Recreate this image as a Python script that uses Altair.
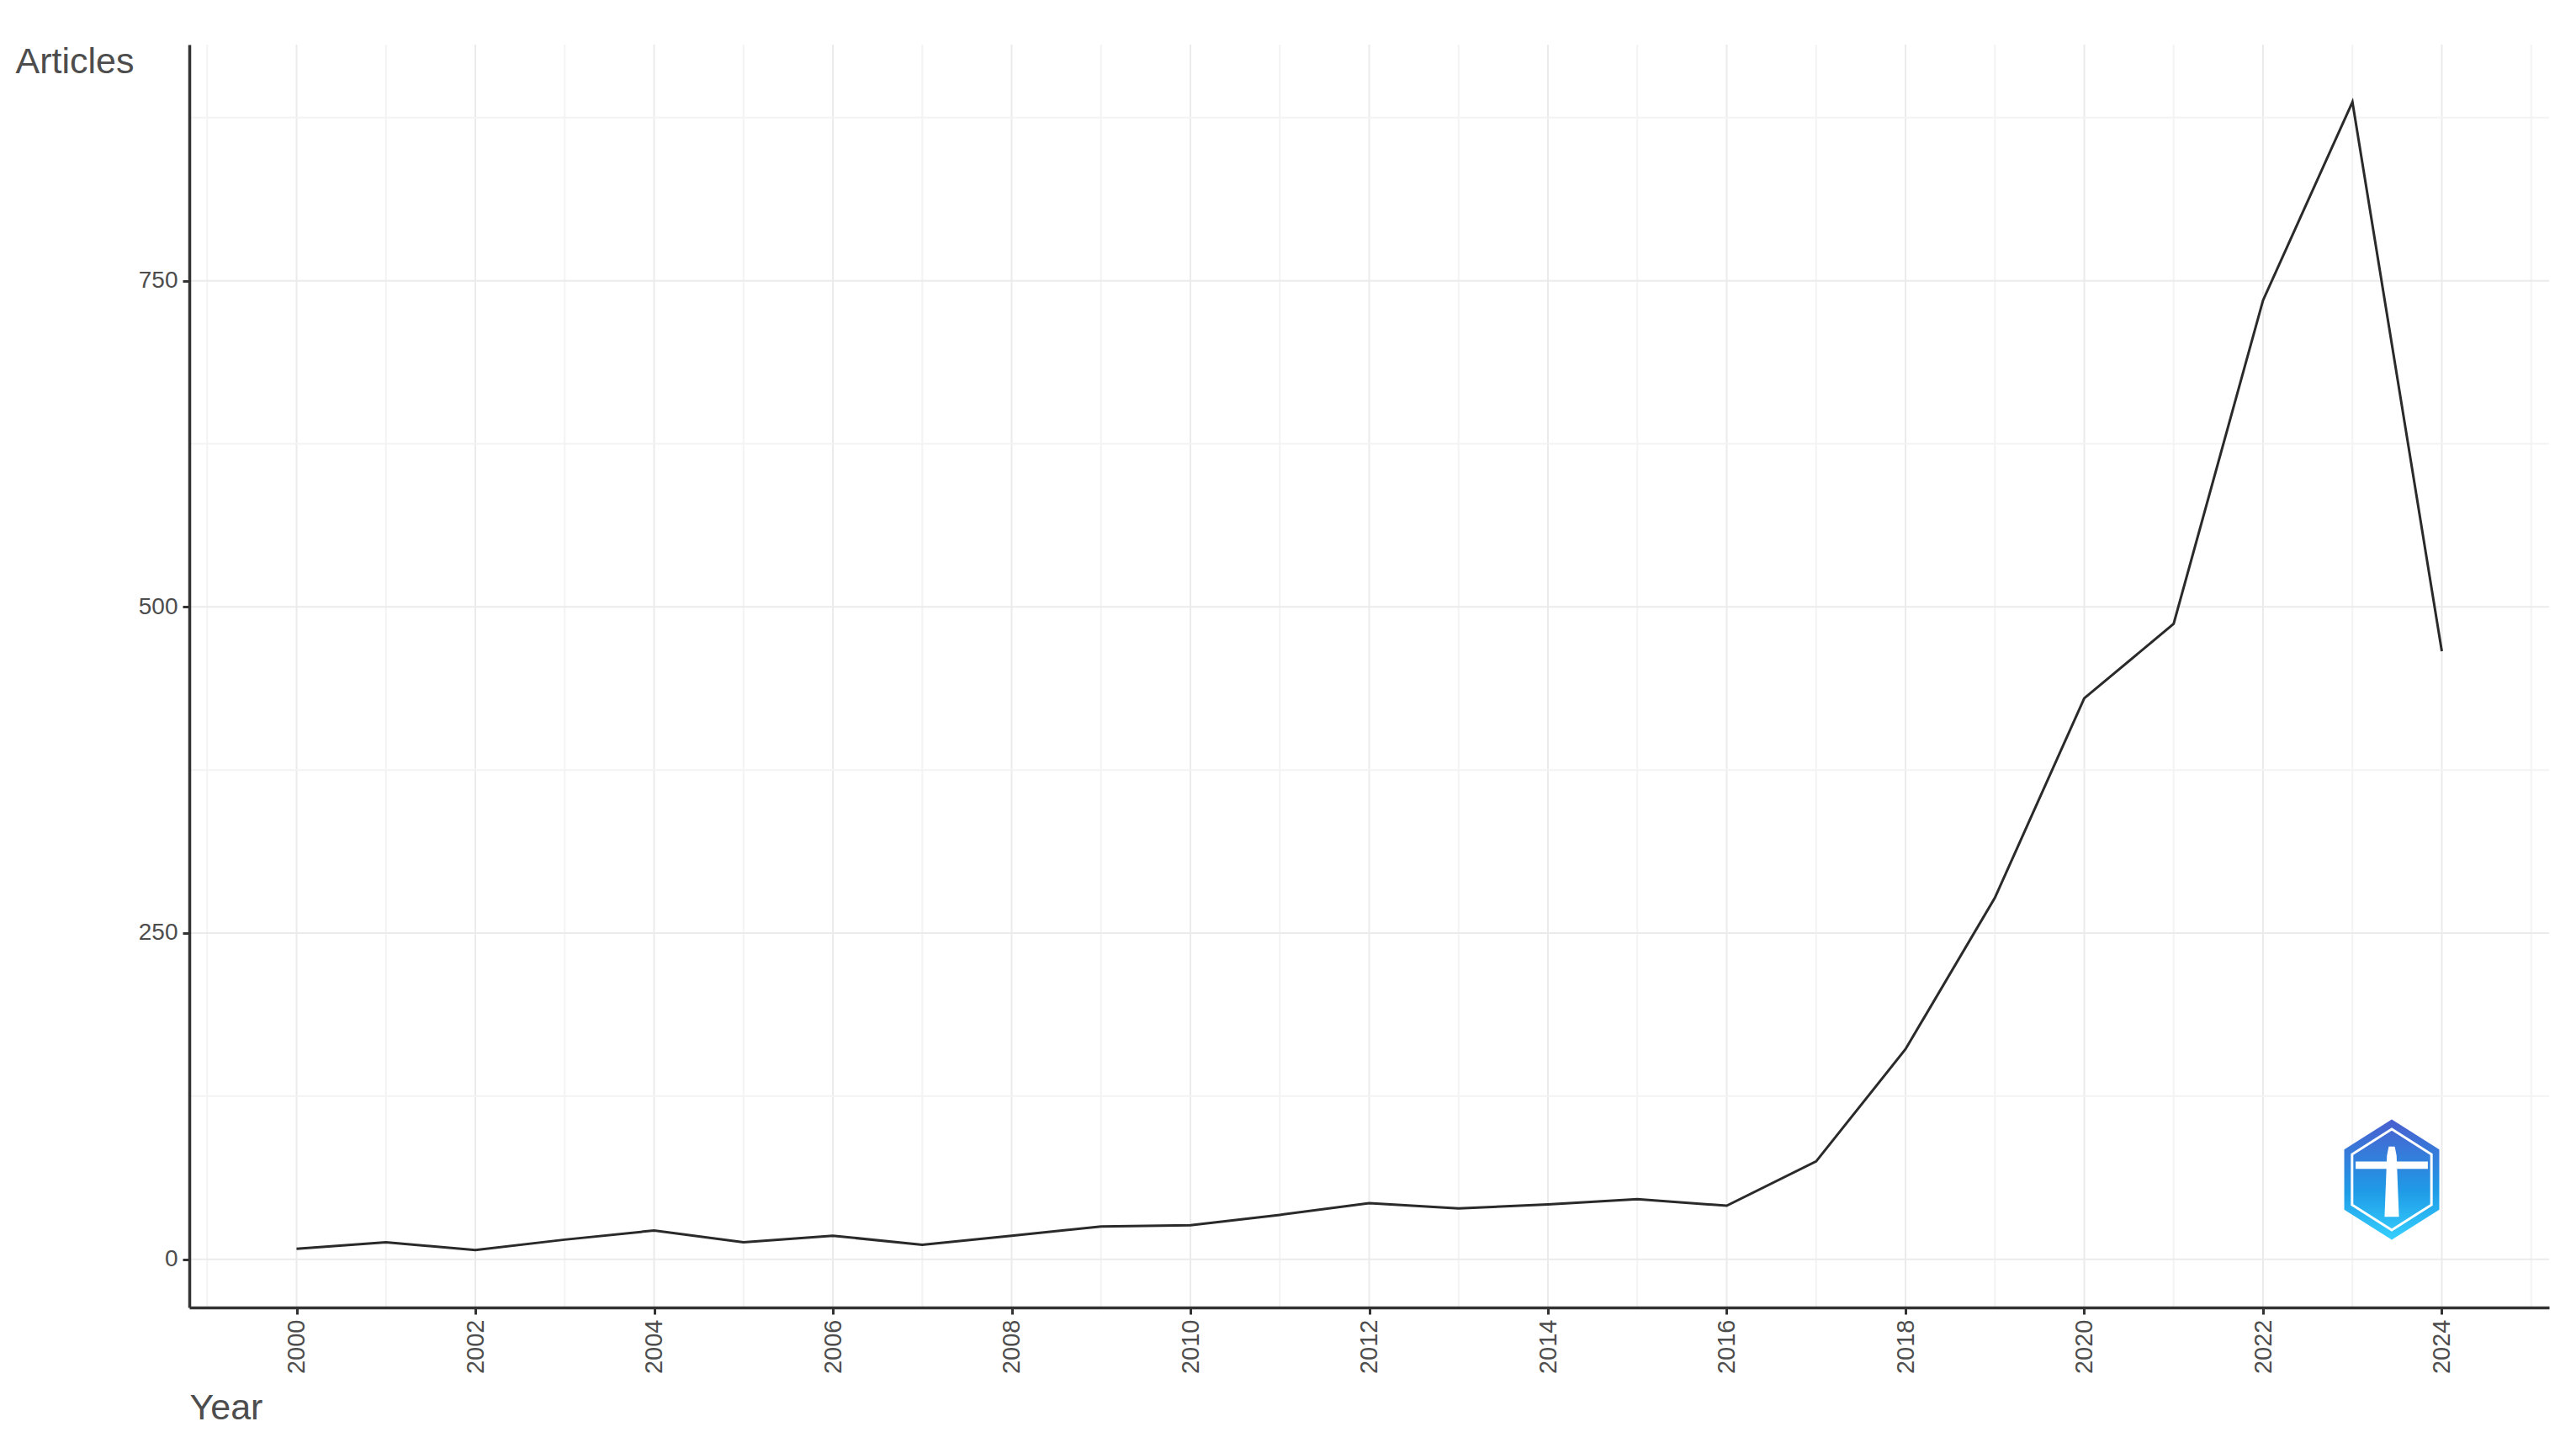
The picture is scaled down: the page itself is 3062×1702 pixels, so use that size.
import altair as alt
import pandas as pd

# ---- data ----
years = list(range(2000, 2025))
articles = [8, 13, 7, 15, 22, 13, 18, 11, 18, 25, 26, 34, 43, 39, 42, 46, 41,
            75, 161, 277, 430, 487, 735, 887, 466]
x_major = list(range(2000, 2025, 2))
x_minor = list(range(1999, 2026, 2))
y_major = [0, 250, 500, 750]
y_minor = [125, 375, 625, 875]

df = pd.DataFrame({"Year": years, "Articles": articles})

# ggplot-style 5% expansion
xpad = 0.05 * (max(years) - min(years))
ypad = 0.05 * (max(articles) - min(articles))
xscale = alt.Scale(domain=[min(years) - xpad, max(years) + xpad], nice=False, zero=False)
yscale = alt.Scale(domain=[min(articles) - ypad, max(articles) + ypad], nice=False, zero=False)

FONT = "Liberation Sans, Arial, Helvetica, sans-serif"
TXT = "#4d4d4d"
AX = "#333333"

W, H = 2805, 1501

xaxis = alt.Axis(
    values=x_major, format="d", grid=False, zindex=1,
    domainColor=AX, domainWidth=3.5, tickColor=AX, tickWidth=3, tickSize=8,
    labelAngle=270, labelAlign="right", labelBaseline="middle",
    labelFont=FONT, labelFontSize=29, labelColor=TXT, labelPadding=6,
    labelOverlap=False, labelFlush=False,
    title="Year", titleX=0, titleY=132, titleAlign="left",
    titleBaseline="alphabetic", titleFont=FONT, titleFontSize=43,
    titleFontWeight="normal", titleColor=TXT)
yaxis = alt.Axis(
    values=y_major, grid=False, zindex=1,
    domainColor=AX, domainWidth=3.5, tickColor=AX, tickWidth=3, tickSize=8,
    labelFont=FONT, labelFontSize=28, labelColor=TXT, labelPadding=6,
    title="Articles", titleAngle=0, titleX=-207, titleY=33,
    titleAlign="left", titleBaseline="alphabetic", titleFont=FONT,
    titleFontSize=43, titleFontWeight="normal", titleColor=TXT)

def vgrid(vals, color):
    return alt.Chart(pd.DataFrame({"Year": vals})).mark_rule(
        color=color, strokeWidth=2).encode(x=alt.X("Year:Q", scale=xscale, axis=xaxis))

def hgrid(vals, color):
    return alt.Chart(pd.DataFrame({"Articles": vals})).mark_rule(
        color=color, strokeWidth=2).encode(y=alt.Y("Articles:Q", scale=yscale, axis=yaxis))

line = alt.Chart(df).mark_line(color="#2a2a2a", strokeWidth=3).encode(
    x=alt.X("Year:Q", scale=xscale, axis=xaxis),
    y=alt.Y("Articles:Q", scale=yscale, axis=yaxis),
)

# ---- small bibliometrix-style logo (decoration) ----
logo_pos = dict(x=alt.value(2618), y=alt.value(1349))
HEX = "M0,-1 L0.79,-0.5 L0.79,0.5 L0,1 L-0.79,0.5 L-0.79,-0.5 Z"
HEX_IN = "M0,-0.84 L0.66,-0.42 L0.66,0.42 L0,0.84 L-0.66,0.42 L-0.66,-0.42 Z"
TOWER = ("M-0.05,-0.55 L0.05,-0.55 L0.08,-0.4 L0.12,0.62 L-0.12,0.62 L-0.08,-0.4 Z "
         "M-0.6,-0.3 L0.6,-0.3 L0.6,-0.18 L-0.6,-0.18 Z")
SZ = 143 * 143
grad = alt.Gradient(gradient="linear",
                    stops=[alt.GradientStop(color="#4a5fcf", offset=0),
                           alt.GradientStop(color="#1f9be6", offset=0.6),
                           alt.GradientStop(color="#35d0ff", offset=1)],
                    x1=0, x2=0, y1=0, y2=1)
logo_df = pd.DataFrame({"k": [0]})
logo1 = alt.Chart(logo_df).mark_point(shape=HEX, size=SZ, filled=True, fill=grad,
                                      opacity=1, strokeWidth=0).encode(**logo_pos)
logo2 = alt.Chart(logo_df).mark_point(shape=HEX_IN, size=SZ, filled=False,
                                      stroke="white", strokeWidth=3,
                                      opacity=1).encode(**logo_pos)
logo3 = alt.Chart(logo_df).mark_point(shape=TOWER, size=SZ, filled=True,
                                      fill="white", strokeWidth=0,
                                      opacity=1).encode(**logo_pos)

chart = alt.layer(
    vgrid(x_minor, "#f3f3f3"), vgrid(x_major, "#ebebeb"),
    hgrid(y_minor, "#f3f3f3"), hgrid(y_major, "#ebebeb"),
    line, logo1, logo2, logo3
).properties(
    width=W, height=H,
    autosize=alt.AutoSizeParams(type="none"),
    padding={"left": 217, "top": 45, "right": 20, "bottom": 150},
    background="white",
).configure_view(stroke=None)

chart.save("out.html", embed_options={"renderer": "svg", "actions": False})
